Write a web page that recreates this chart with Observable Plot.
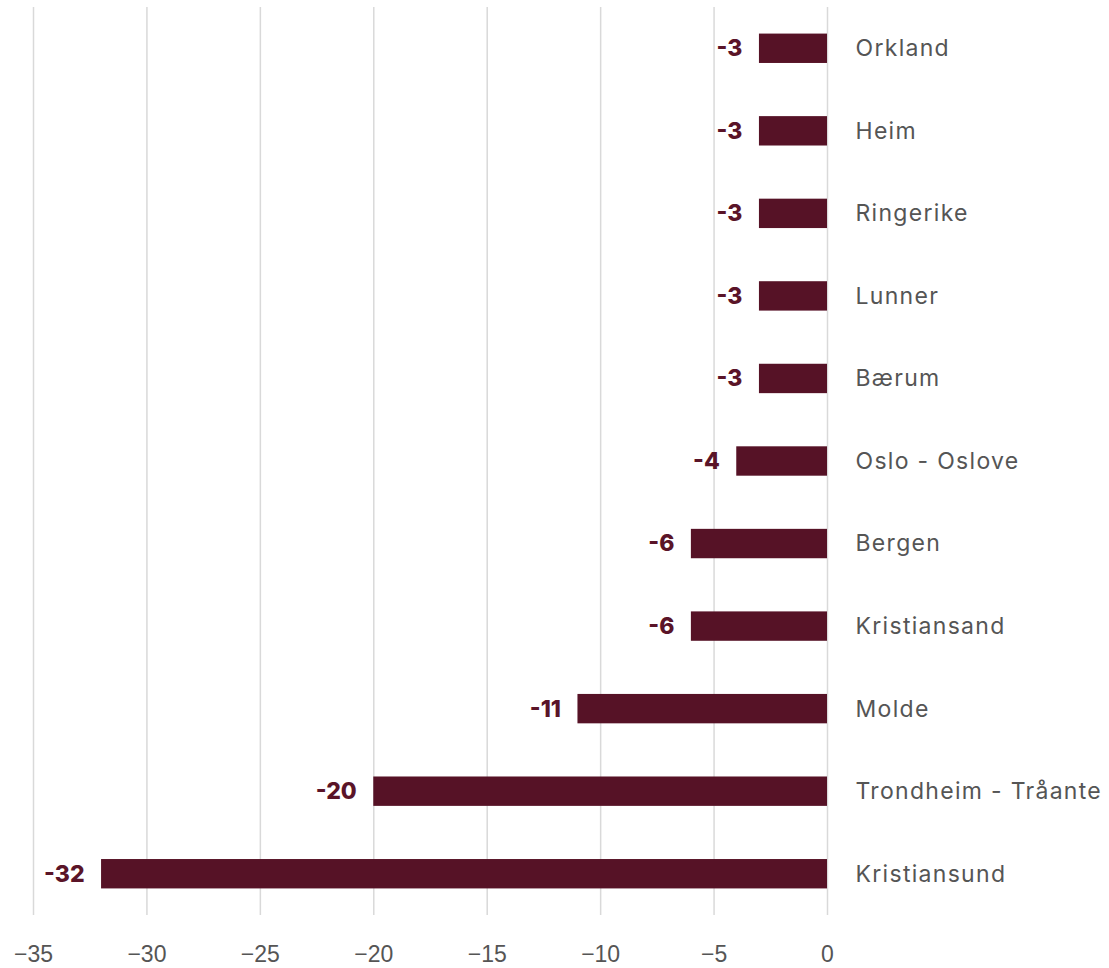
<!DOCTYPE html>
<html>
<head>
<meta charset="utf-8">
<script src="https://cdn.jsdelivr.net/npm/d3@7"></script>
<script src="https://cdn.jsdelivr.net/npm/@observablehq/plot@0.6"></script>
<style>
  html, body { margin: 0; padding: 0; background: #fff; }
  #chart svg { display: block; }
  .catlabel text { letter-spacing: 1.3px; }
</style>
</head>
<body>
<div id="chart"></div>
<script>
const categories = ["Orkland", "Heim", "Ringerike", "Lunner", "Bærum", "Oslo - Oslove", "Bergen", "Kristiansand", "Molde", "Trondheim - Tråante", "Kristiansund"];
const values = [-3, -3, -3, -3, -3, -4, -6, -6, -11, -20, -32];
const xTicks = [-35, -30, -25, -20, -15, -10, -5, 0];

const data = categories.map((c, i) => ({name: c, value: values[i]}));

const barColor = "#561226";
const labelColor = "#5a1428";

const chart = Plot.plot({
  width: 1109,
  height: 968,
  marginLeft: 33,
  marginRight: 282,
  marginTop: 7,
  marginBottom: 53,
  style: {fontFamily: "Liberation Sans, Arial, sans-serif", background: "#fff"},
  x: {domain: [-35, 0], ticks: xTicks, label: null, grid: false},
  y: {domain: categories, paddingInner: 0.644, paddingOuter: 0.322, round: false, axis: null, label: null},
  marks: [
    Plot.ruleX(xTicks, {stroke: "#d9d9d9", strokeWidth: 1.5}),
    Plot.axisX({ticks: xTicks, tickSize: 0, tickPadding: 30, fontSize: 23, fill: "#555", tickFormat: d => d === 0 ? "0" : "\u2212" + Math.abs(d), label: null}),
    Plot.barX(data, {x: "value", y: "name", fill: barColor}),
    Plot.text(data, {x: "value", y: "name", text: d => "-" + Math.abs(d.value), textAnchor: "end", dx: -17, fill: labelColor, fontWeight: 800, fontSize: 23, fontFamily: "Inter, sans-serif"}),
    Plot.text(data, {x: 0, y: "name", text: "name", textAnchor: "start", dx: 28, fill: "#555", fontSize: 23, fontFamily: "Inter, sans-serif", className: "catlabel"})
  ]
});

document.getElementById("chart").appendChild(chart);
</script>
</body>
</html>
